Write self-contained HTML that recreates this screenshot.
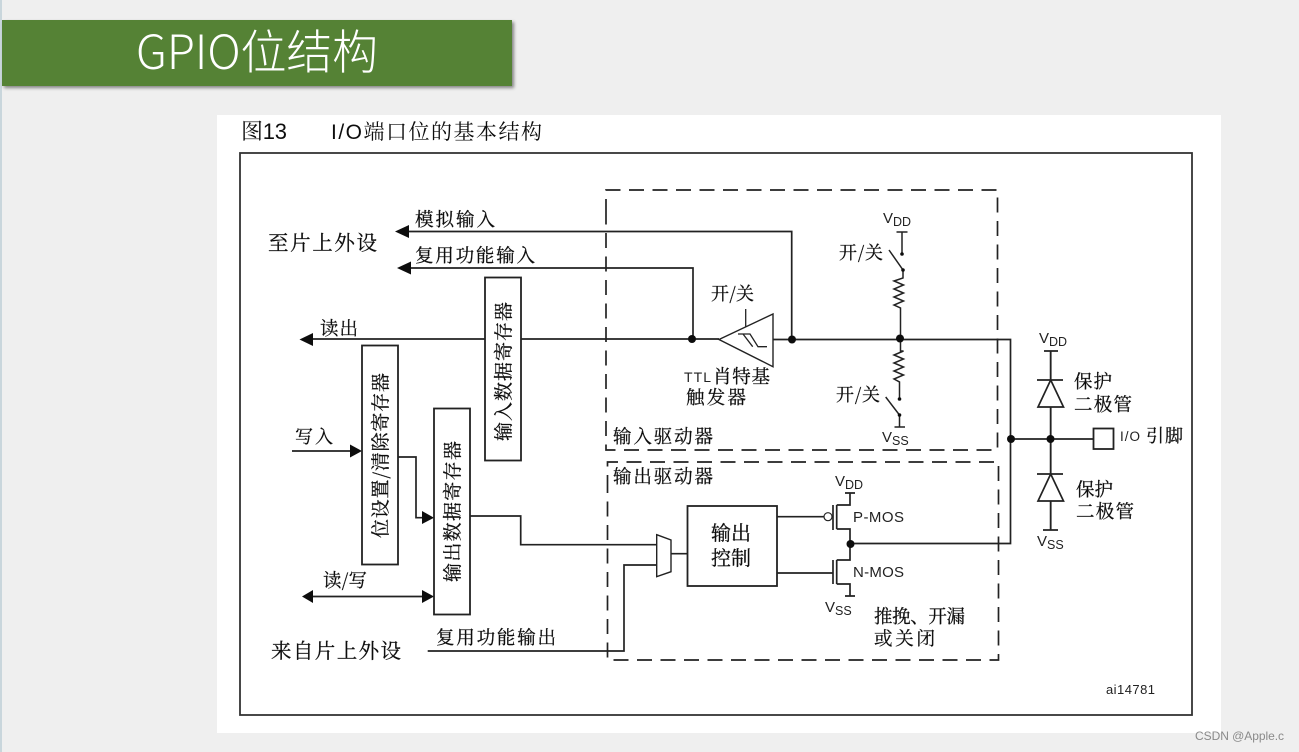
<!DOCTYPE html>
<html><head><meta charset="utf-8">
<style>
html,body{margin:0;padding:0;background:#efefef;}
body{width:1299px;height:752px;overflow:hidden;position:relative;}
svg{position:absolute;left:0;top:0;}
.c{font-family:"Noto Serif CJK SC","Liberation Serif",serif;fill:#111;stroke:#111;stroke-width:.25;}
.l{font-family:"Liberation Sans",sans-serif;fill:#222;}
.w{fill:none;stroke:#222;stroke-width:1.7;}
.d{fill:none;stroke:#222;stroke-width:1.7;stroke-dasharray:15 8.5;}
</style></head><body>
<svg width="1299" height="752" viewBox="0 0 1299 752" xmlns="http://www.w3.org/2000/svg">
<defs>
<filter id="sh" x="-5%" y="-20%" width="110%" height="140%"><feDropShadow dx="2" dy="2" stdDeviation="1.5" flood-color="#000" flood-opacity=".45"/></filter>
<filter id="soft" filterUnits="userSpaceOnUse" x="0" y="0" width="1299" height="752"><feGaussianBlur stdDeviation="0.35"/></filter>
</defs>
<rect x="0" y="0" width="1299" height="752" fill="#efefef"/>
<rect x="0" y="0" width="2" height="752" fill="#c9d6dc"/>
<rect x="2" y="20" width="510" height="66" fill="#548235" filter="url(#sh)"/>
<text x="136" y="69" font-size="47" font-weight="300" fill="#fff" style="font-family:'Noto Sans CJK SC',sans-serif" textLength="242" lengthAdjust="spacingAndGlyphs">GPIO位结构</text>

<rect x="217" y="115" width="1004" height="618" fill="#fff"/>
<g filter="url(#soft)">
<text x="241" y="139" font-size="22" class="l" style="font-family:'Liberation Sans','Noto Serif CJK SC',serif;fill:#111" textLength="46">图13</text>
<text x="331" y="139" font-size="21" class="l" style="font-family:'Liberation Sans','Noto Serif CJK SC',serif;fill:#111" textLength="211">I/O端口位的基本结构</text>
<rect x="240" y="153" width="952" height="562" fill="none" stroke="#333" stroke-width="1.8"/>

<!-- dashed boxes -->
<path class="d" d="M606 214V190H997.5V450H606V214"/>
<path class="d" d="M607.5 490V462H998.5V660H607.5V490"/>

<!-- wires -->
<path class="w" d="M406 231.5H791.7V339M410 268H693V339"/>
<path class="w" d="M310 339H485M521 339H719M773 339.5H1010.5V543.5H850"/>
<path class="w" d="M292 451H352M398 457H416V517.7H424M470 516H520.7V544.7H656.7"/>
<path class="w" d="M427.7 651H624V565H656.7M671 553.7H687.5M312 596.5H424"/>
<path class="w" d="M777 516.7H824M777 573H833M1011 439H1093.5"/>
<!-- arrowheads -->
<g fill="#111">
<path d="M395 231.5L409 225V238Z"/><path d="M397 268L411 261.5V274.500Z"/>
<path d="M299.500 339.500L313 333V346Z"/>
<path d="M362 451L350 444.500V457.500Z"/><path d="M434 517.700L422 511V524Z"/>
<path d="M302 596.500L313 590V603Z"/><path d="M434 596.500L422 590V603Z"/>
</g>
<!-- registers -->
<g fill="#fff" stroke="#222" stroke-width="1.8">
<rect x="485" y="277.500" width="36" height="183"/>
<rect x="362" y="345.500" width="36" height="219"/>
<rect x="434" y="408.500" width="36" height="206"/>
<rect x="687.500" y="506" width="89.500" height="80"/>
<rect x="1093.500" y="428.500" width="20" height="20.500"/>
</g>
<!-- mux -->
<path d="M656.700 534.700L671 540V571.700L656.700 576.700Z" fill="#fff" stroke="#222" stroke-width="1.400"/>
<!-- schmitt -->
<path d="M719 339.500L773 314V366.700Z" fill="#fff" stroke="#222" stroke-width="1.400"/>
<path class="w" d="M745.700 309V327M738 334H750L758 346.700H767M743 334L752.700 346.700" style="stroke-width:1.300"/>
<!-- pull up/down -->
<path class="w" d="M896.500 232H907.500M902 232V254M889 250L903 270V278L894 281L903.500 285L894 289L903.500 293L894 297L903.500 301L894 305L900.500 308V339M900.500 339V351H903.500L894 355L903.500 359L894 363L903.500 367L894 371L903.500 375L894 379L899.500 382V399M885.700 397L899.500 415V427M894.500 427H905" style="stroke-width:1.500"/>
<g fill="#111">
<circle cx="902" cy="254" r="1.800"/><circle cx="903" cy="270" r="1.800"/><circle cx="899.500" cy="399" r="1.800"/><circle cx="899.500" cy="415" r="1.800"/>
</g>
<!-- mos -->
<circle cx="828" cy="516.700" r="4" fill="#fff" stroke="#222" stroke-width="1.200"/>
<path class="w" d="M833 505V530M836.700 505V529M836.700 505H850V493M845 493H855M836.700 529H850V560H836.700M836.700 560V584M833 560V584M836.700 584H850V596M845 596H855"/>
<!-- protection -->
<path class="w" d="M1044 351H1058M1050.700 351V530M1043 530H1058M1037 380H1063M1037 474H1063"/>
<path class="w" d="M1050.700 380L1038 407H1063.500ZM1050.700 474L1038 501H1063.500Z" style="fill:#fff"/>
<path class="w" d="M1050.700 351V380M1050.700 407V474M1050.700 501V530"/>
<!-- dots -->
<g fill="#111">
<circle cx="692" cy="339" r="4"/><circle cx="792" cy="339.500" r="4"/><circle cx="900" cy="338.500" r="4"/>
<circle cx="850.500" cy="544" r="4"/><circle cx="1011" cy="439" r="4"/><circle cx="1050.500" cy="439" r="4"/>
</g>

<!-- labels -->
<g class="c">
<text x="268" y="250" font-size="20.500" textLength="109">至片上外设</text>
<text x="415" y="226" font-size="18.500" textLength="80">模拟输入</text>
<text x="415" y="262" font-size="18.500" textLength="120">复用功能输入</text>
<text x="320" y="335" font-size="18.500" textLength="38">读出</text>
<text x="295" y="443" font-size="18" textLength="38">写入</text>
<text x="323" y="587" font-size="18.500" textLength="44">读/写</text>
<text x="436" y="644" font-size="18.500" textLength="120">复用功能输出</text>
<text x="271" y="658" font-size="20.500" textLength="130">来自片上外设</text>
<text transform="translate(510 441) rotate(-90)" font-size="19" textLength="139">输入数据寄存器</text>
<text transform="translate(387 538) rotate(-90)" font-size="19" textLength="165">位设置/清除寄存器</text>
<text transform="translate(459 582) rotate(-90)" font-size="19" textLength="141">输出数据寄存器</text>
<text x="711" y="300" font-size="18" textLength="43">开/关</text>
<text x="713" y="383" font-size="18.500" textLength="57">肖特基</text>
<text x="686" y="404" font-size="18.500" textLength="60">触发器</text>
<text x="839" y="259" font-size="18" textLength="44">开/关</text>
<text x="836" y="401" font-size="18" textLength="44">开/关</text>
<text x="613" y="443" font-size="18.500" textLength="100">输入驱动器</text>
<text x="613" y="483" font-size="18.500" textLength="100">输出驱动器</text>
<text x="711" y="540" font-size="20" textLength="40">输出</text>
<text x="711" y="565" font-size="20" textLength="40">控制</text>
<text x="874" y="623" font-size="18.500" textLength="91">推挽、开漏</text>
<text x="874" y="645" font-size="18.500" textLength="61">或关闭</text>
<text x="1074" y="388" font-size="18.500" textLength="38">保护</text>
<text x="1074" y="411" font-size="18.500" textLength="58">二极管</text>
<text x="1076" y="496" font-size="18.500" textLength="37">保护</text>
<text x="1076" y="518" font-size="18.500" textLength="58">二极管</text>
<text x="1146" y="442" font-size="18" textLength="37">引脚</text>
</g>
<g class="l">
<text x="684" y="382" font-size="14" textLength="27">TTL</text>
<text x="853" y="522" font-size="15" textLength="51">P-MOS</text>
<text x="853" y="577" font-size="15" textLength="51">N-MOS</text>
<text x="1120" y="441" font-size="13.500" textLength="20">I/O</text>
<text x="1106" y="694" font-size="13" textLength="49">ai14781</text>
<text x="883" y="223" font-size="15">V<tspan font-size="12.500" dy="3">DD</tspan></text>
<text x="882" y="442" font-size="15">V<tspan font-size="12.500" dy="3">SS</tspan></text>
<text x="835" y="486" font-size="15">V<tspan font-size="12.500" dy="3">DD</tspan></text>
<text x="825" y="612" font-size="15">V<tspan font-size="12.500" dy="3">SS</tspan></text>
<text x="1039" y="343" font-size="15">V<tspan font-size="12.500" dy="3">DD</tspan></text>
<text x="1037" y="546" font-size="15">V<tspan font-size="12.500" dy="3">SS</tspan></text>
</g>
</g>
<text x="1195" y="740" font-size="12" fill="#8a8a8a" style="font-family:'Liberation Sans',sans-serif" textLength="89">CSDN @Apple.c</text>
</svg>
</body></html>
